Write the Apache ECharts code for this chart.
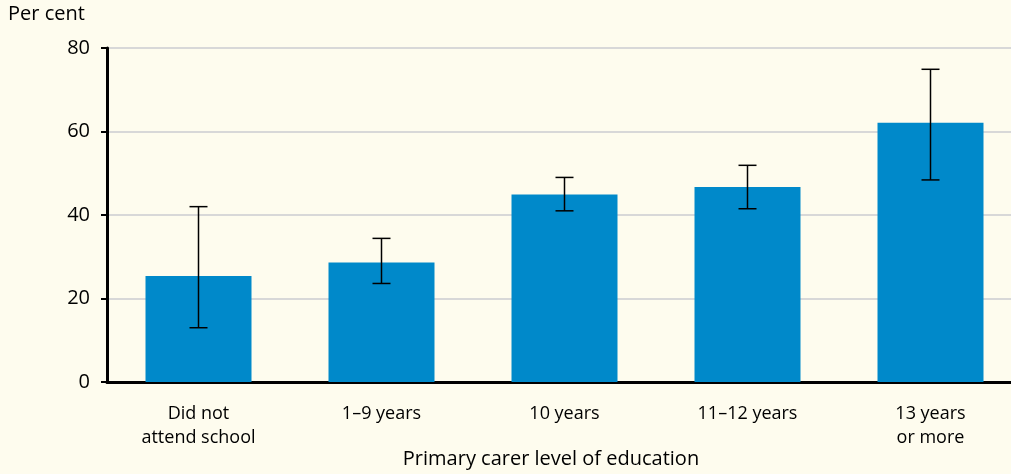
<!DOCTYPE html>
<html><head><meta charset="utf-8">
<script src="https://cdn.jsdelivr.net/npm/echarts@6/dist/echarts.min.js"></script>
<style>html,body{margin:0;padding:0;background:#fefcee;}#c{width:1011px;height:474px;}</style>
</head><body><div id="c"></div>
<script>
const categories = ['Did not\nattend school', '1\u20139 years', '10 years', '11\u201312 years', '13 years\nor more'];
const values = [25.4, 28.6, 44.9, 46.7, 62.1];
const errLow = [13.0, 23.6, 41.0, 41.5, 48.4];
const errHigh = [42.0, 34.4, 49.0, 51.9, 74.9];
const yTicks = [0, 20, 40, 60, 80];

const FONT = '"Open Sans", "Noto Sans", sans-serif';
const chart = echarts.init(document.getElementById('c'), null, {renderer: 'canvas'});
const errData = categories.map((c, i) => [i, errLow[i], errHigh[i]]);
chart.setOption({
  backgroundColor: '#fefcee',
  animation: false,
  grid: {left: 107, top: 48, right: -11, bottom: 92, containLabel: false, outerBoundsMode: 'none'},
  xAxis: {
    type: 'category', data: categories,
    axisLine: {lineStyle: {color: '#000', width: 3}},
    axisTick: {show: false},
    axisLabel: {color: '#000', fontFamily: FONT, fontSize: 18, lineHeight: 24, margin: 20, interval: 0}
  },
  yAxis: {
    type: 'value', min: 0, max: 80, interval: 20,
    axisLine: {show: true, lineStyle: {color: '#000', width: 3}},
    axisTick: {show: true, length: 6, lineStyle: {color: '#000', width: 2}},
    axisLabel: {color: '#000', fontFamily: FONT, fontSize: 20, margin: 17,
      formatter: v => yTicks.includes(v) ? String(v) : ''},
    splitLine: {show: true, lineStyle: {color: '#d8d8d8', width: 2}}
  },
  graphic: [
    {type: 'text', x: 8, y: 4, style: {text: 'Per cent', fontFamily: FONT, fontSize: 20, fill: '#000'}},
    {type: 'text', x: 551, y: 449, style: {text: 'Primary carer level of education', fontFamily: FONT, fontSize: 20, fill: '#000', textAlign: 'center'}}
  ],
  series: [
    {type: 'bar', data: values, barWidth: 106, itemStyle: {color: '#0089ca'}, z: 2},
    {type: 'custom', data: errData, z: 5,
      renderItem: function (params, api) {
        const x = api.value(0);
        const lo = api.coord([x, api.value(1)]);
        const hi = api.coord([x, api.value(2)]);
        const half = 9;
        const st = {stroke: '#000', lineWidth: 1.5};
        return {type: 'group', children: [
          {type: 'line', shape: {x1: lo[0], y1: lo[1], x2: hi[0], y2: hi[1]}, style: st},
          {type: 'line', shape: {x1: lo[0] - half, y1: lo[1], x2: lo[0] + half, y2: lo[1]}, style: st},
          {type: 'line', shape: {x1: hi[0] - half, y1: hi[1], x2: hi[0] + half, y2: hi[1]}, style: st}
        ]};
      }
    }
  ]
});
</script></body></html>
